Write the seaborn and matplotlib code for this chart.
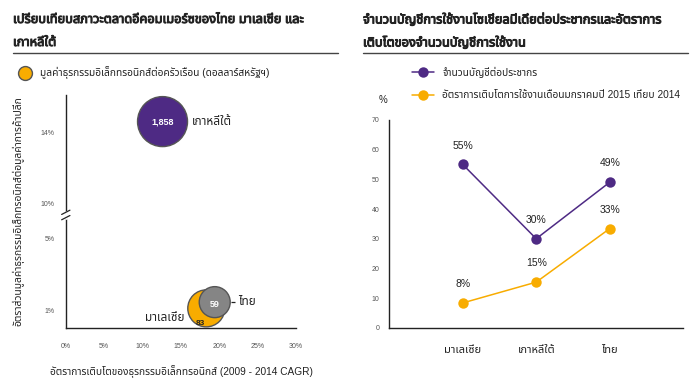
import matplotlib
matplotlib.use("Agg")
import matplotlib.pyplot as plt
import matplotlib.patheffects as pe
from matplotlib.transforms import offset_copy
import pandas as pd
import seaborn as sns

# ─── Data ─────────────────────────────────────────────────────────────
# left panel: e-commerce bubbles
COUNTRIES = ["เกาหลีใต้", "มาเลเซีย", "ไทย"]
GROWTH = [12.6, 18.3, 19.4]          # % CAGR 2009-2014
SHARE = [14.6, 1.1, 1.45]            # % of retail
SPEND = [1858, 83, 59]               # USD per household
Y_TICKS = [1, 5, 10, 14]

# right panel: social media accounts
CATS = ["มาเลเซีย", "เกาหลีใต้", "ไทย"]
ACCOUNTS = [55, 30, 49]
GROWTH_2015 = [8.4, 15.4, 33.4]
ACC_LABEL = "จำนวนบัญชีต่อประชากร"
GROW_LABEL = "อัตราการเติบโตการใช้งานเดือนมกราคมปี 2015 เทียบ 2014"

TITLE_L = ["เปรียบเทียบสภาวะตลาดอีคอมเมอร์ซของไทย มาเลเซีย และ", "เกาหลีใต้"]
TITLE_R = ["จำนวนบัญชีการใช้งานโซเชียลมีเดียต่อประชากรและอัตราการ",
           "เติบโตของจำนวนบัญชีการใช้งาน"]
BUBBLE_LEGEND = "มูลค่าธุรกรรมอิเล็กทรอนิกส์ต่อครัวเรือน (ดอลลาร์สหรัฐฯ)"
XLABEL_L = "อัตราการเติบโตของธุรกรรมอิเล็กทรอนิกส์ (2009 - 2014 CAGR)"
YLABEL_L = "อัตราส่วนมูลค่าธุรกรรมอิเล็กทรอนิกส์ต่อมูลค่าการค้าปลีก"

# ─── Styling ──────────────────────────────────────────────────────────
PURPLE = "#4E2A84"
ORANGE = "#F8AC00"
GREY = "#858585"
INK = "#222222"
COLORS = {"เกาหลีใต้": PURPLE, "มาเลเซีย": ORANGE, "ไทย": GREY}
SIZES = {1858: 1296, 83: 710, 59: 498}
BREAK_SHIFT = 3.0   # y above the axis break is pulled down by this much
FONT = ["Liberation Sans", "Noto Sans Thai", "DejaVu Sans"]
HEAVY = [pe.withStroke(linewidth=0.7, foreground=INK)]  # fake bold for Thai

sns.set_theme(style="white")
plt.rcParams["font.family"] = FONT
plt.rcParams["axes.edgecolor"] = INK
plt.rcParams["axes.linewidth"] = 1.0


def squash(v):
    """Map real % onto the broken y axis."""
    return v if v < 7.5 else v - BREAK_SHIFT


fig = plt.figure(figsize=(7.0, 3.89), dpi=100)

# ── Left: bubble chart ────────────────────────────────────────────────
ax1 = fig.add_axes([0.094, 0.157, 0.329, 0.599])
df = pd.DataFrame({"country": COUNTRIES, "growth": GROWTH,
                   "share": [squash(v) for v in SHARE], "spend": SPEND})
sns.scatterplot(data=df, x="growth", y="share", hue="country", palette=COLORS,
                size="spend", sizes=SIZES, legend=False, edgecolor="#555555",
                linewidth=1.0, alpha=1, ax=ax1, zorder=3)
ax1.set_xlim(0, 30)
ax1.set_ylim(0, 13.1)
ax1.set_xticks(range(0, 31, 5))
ax1.set_xticklabels([f"{t}%" for t in range(0, 31, 5)])
ax1.set_yticks([squash(t) for t in Y_TICKS])
ax1.set_yticklabels([f"{t}%" for t in Y_TICKS])
ax1.tick_params(axis="x", length=3, width=0.8, labelsize=5, colors=INK,
                labelcolor="#555555", pad=8)
ax1.tick_params(axis="y", length=0, labelsize=5, labelcolor="#555555", pad=8)
for s in ["top", "right"]:
    ax1.spines[s].set_visible(False)
ax1.set_xlabel(XLABEL_L, fontsize=7.3, labelpad=11, color=INK)
ax1.set_ylabel(YLABEL_L, fontsize=7.4, labelpad=12, color=INK)

# axis break marks
yb = 6.35
tr = ax1.get_yaxis_transform()
ax1.plot([0, 0], [yb - 0.15, yb + 0.15], color="white", lw=2, transform=tr,
         clip_on=False, zorder=4)
for dy in (-0.15, 0.15):
    ax1.plot([-0.018, 0.018], [yb + dy - 0.12, yb + dy + 0.12], color=INK,
             lw=0.9, transform=tr, clip_on=False, zorder=5)

# bubble labels
kx, ky = GROWTH[0], squash(SHARE[0])
ax1.annotate(f"{SPEND[0]:,}", (kx, ky), ha="center", va="center", fontsize=6.5,
             color="white", fontweight="bold", zorder=5)
ax1.annotate(COUNTRIES[0], (kx, ky), xytext=(21, 0), textcoords="offset points",
             ha="left", va="center", fontsize=8.5, color=INK)
mx, my = GROWTH[1], squash(SHARE[1])
ax1.annotate(COUNTRIES[1], (mx, my), xytext=(-16, -7), textcoords="offset points",
             ha="right", va="center", fontsize=8.5, color=INK)
ax1.annotate(f"{SPEND[1]}", (mx, my), xytext=(-4, -11), textcoords="offset points",
             ha="center", va="center", fontsize=6, fontweight="bold",
             color=INK, zorder=5)
tx, ty = GROWTH[2], squash(SHARE[2])
ax1.annotate(f"{SPEND[2]}", (tx, ty), xytext=(0, -2), textcoords="offset points",
             ha="center", va="center", fontsize=6.5, fontweight="bold",
             color="white", zorder=5)
ax1.annotate(COUNTRIES[2], (tx, ty), xytext=(17, 0), textcoords="offset points",
             ha="left", va="center", fontsize=8.5, color=INK)
ax1.plot([tx], [ty], marker="_", markersize=3.5, markeredgewidth=0.9, color=INK,
         transform=offset_copy(ax1.transData, fig=fig, x=13.5, y=0, units="points"),
         zorder=5)

# ── Right: line chart ─────────────────────────────────────────────────
ax2 = fig.add_axes([0.556, 0.157, 0.420, 0.535])
long = pd.DataFrame({
    "cat": list(range(len(CATS))) * 2,
    "value": ACCOUNTS + GROWTH_2015,
    "series": [ACC_LABEL] * len(CATS) + [GROW_LABEL] * len(CATS),
})
sns.lineplot(data=long, x="cat", y="value", hue="series",
             palette={ACC_LABEL: PURPLE, GROW_LABEL: ORANGE}, marker="o",
             markersize=7.5, markeredgewidth=0, linewidth=1.1, ax=ax2)
for vals in (ACCOUNTS, GROWTH_2015):
    for i, v in enumerate(vals):
        ax2.annotate(f"{v:.0f}%", (i, v), xytext=(0, 10), textcoords="offset points",
                     ha="center", va="bottom", fontsize=7.5, color=INK)
ax2.set_xlim(-1, 3)
ax2.set_ylim(0, 70)
ax2.set_xticks(range(len(CATS)))
ax2.set_xticklabels(CATS)
ax2.set_yticks(range(0, 71, 10))
ax2.tick_params(axis="x", length=0, labelsize=8, labelcolor=INK, pad=12)
ax2.tick_params(axis="y", length=3, width=0.8, labelsize=5, labelcolor="#555555",
                colors=INK, pad=4)
for s in ["top", "right"]:
    ax2.spines[s].set_visible(False)
ax2.set_xlabel("")
ax2.set_ylabel("")
leg = ax2.legend(loc="lower left", bbox_to_anchor=(0.06, 1.07), frameon=False,
                 fontsize=7.3, handlelength=2.2, labelspacing=1.2, borderpad=0,
                 handletextpad=0.8)
for t in leg.get_texts():
    t.set_color(INK)
fig.text(383 / 700, 1 - 100 / 389, "%", fontsize=7, ha="center", va="center",
         color=INK)

# ── Titles and rules ──────────────────────────────────────────────────
for x0, lines in ((13, TITLE_L), (363, TITLE_R)):
    for y0, line in zip((20, 43), lines):
        fig.text(x0 / 700, 1 - y0 / 389, line, fontsize=9.2, fontweight="bold",
                 ha="left", va="center", color=INK, path_effects=HEAVY)
    fig.add_artist(plt.Line2D([x0 / 700, (x0 + 325) / 700],
                              [1 - 53 / 389, 1 - 53 / 389], color="#444444", lw=1))

fig.add_artist(plt.Line2D([25 / 700], [1 - 73 / 389], marker="o", markersize=10,
                          markerfacecolor=ORANGE, markeredgecolor="#555555",
                          markeredgewidth=1, linestyle="none"))
fig.text(40 / 700, 1 - 73 / 389, BUBBLE_LEGEND, fontsize=7.3, ha="left",
         va="center", color=INK)

fig.savefig("out.png", dpi=100)
plt.close(fig)
